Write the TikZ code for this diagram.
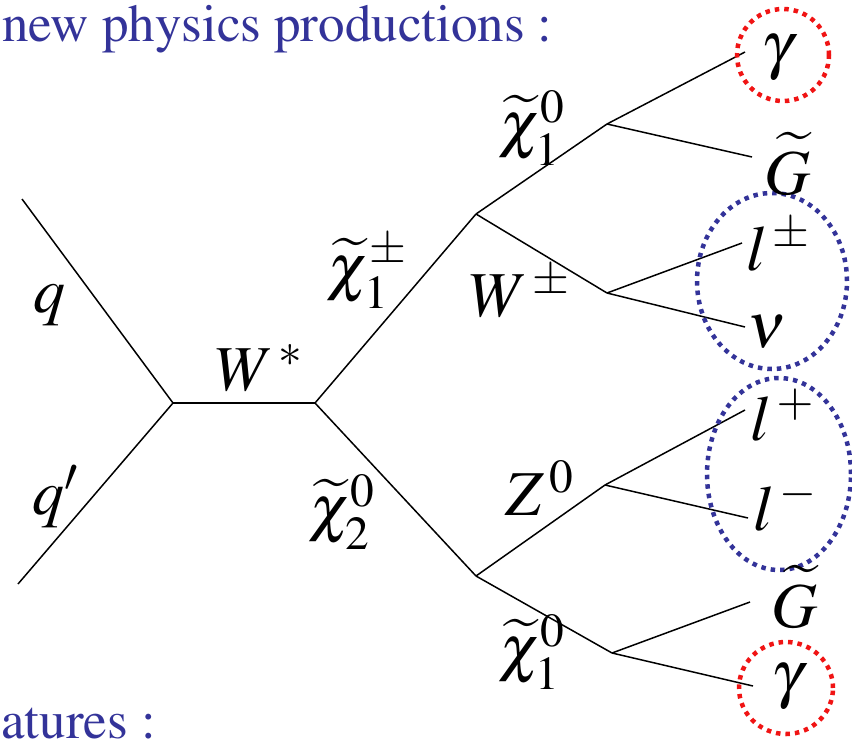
\documentclass[tikz,border=0pt]{standalone}
\usepackage[T1]{fontenc}
\usepackage{amsmath}
\usepackage{mathptmx}
\usetikzlibrary{shapes.geometric}
\definecolor{titleblue}{RGB}{51,51,153}
\definecolor{dotblue}{RGB}{51,51,153}
\definecolor{dotred}{RGB}{240,20,20}
\newcommand\chit{\widetilde{\chi}}
\begin{document}
\begin{tikzpicture}[x=1pt,y=-1pt,
  prop/.style={line width=1.5pt,black},
  lab/.style={inner sep=0pt,font=\fontsize{64}{68}\selectfont},
  title/.style={inner sep=0pt,text=titleblue,font=\fontencoding{T1}\fontfamily{ptm}\fontsize{53}{58}\selectfont},
  redring/.style={ellipse,draw=dotred,line width=4.5pt,dash pattern=on 4.5pt off 5pt,inner sep=0pt},
  bluering/.style={ellipse,draw=dotblue,line width=4.5pt,dash pattern=on 4.5pt off 5pt,inner sep=0pt}]
\useasboundingbox (0,0) rectangle (852,740);
\clip (0,0) rectangle (852,740);
% titles
\node[title,anchor=base west] (t1) at (2,41) {new physics productions :};
\node[title,anchor=base west] (t2) at (-40,738) {features :};
% vertices
\coordinate (v1) at (173,403);
\coordinate (v2) at (315,403);
\coordinate (v3) at (476,214);
\coordinate (v4) at (476,576);
\coordinate (v5) at (607,124);
\coordinate (v6) at (607,293);
\coordinate (v7) at (605,485);
\coordinate (v8) at (612,653);
% free ends
\coordinate (qin) at (22,199);
\coordinate (qpin) at (18,584);
\coordinate (ga1) at (745,52);
\coordinate (G1) at (752,157);
\coordinate (lpm) at (742,243);
\coordinate (nu) at (745,327);
\coordinate (lp) at (745,410);
\coordinate (lm) at (748,518);
\coordinate (G2) at (750,602);
\coordinate (ga2) at (753,686);
% propagators
\draw[prop] (qin) -- (v1);
\draw[prop] (qpin) -- (v1);
\draw[prop] (v1) -- (v2);
\draw[prop] (v2) -- (v3);
\draw[prop] (v2) -- (v4);
\draw[prop] (v3) -- (v5);
\draw[prop] (v3) -- (v6);
\draw[prop] (v5) -- (ga1);
\draw[prop] (v5) -- (G1);
\draw[prop] (v6) -- (lpm);
\draw[prop] (v6) -- (nu);
\draw[prop] (v4) -- (v7);
\draw[prop] (v4) -- (v8);
\draw[prop] (v7) -- (lp);
\draw[prop] (v7) -- (lm);
\draw[prop] (v8) -- (G2);
\draw[prop] (v8) -- (ga2);
% rings
\node[redring,minimum width=92pt,minimum height=92pt] (r1) at (783,55) {};
\node[bluering,minimum width=150pt,minimum height=176pt] (b1) at (772,281) {};
\node[bluering,minimum width=144pt,minimum height=192pt] (b2) at (779,474) {};
\node[redring,minimum width=94pt,minimum height=92pt] (r2) at (786,688) {};
% labels
\node[lab] (lq) at (50,305) {$q$};
\node[lab] (lqp) at (55,497) {$q'$};
\node[lab] (lW) at (259,368) {$W^{\,*}$};
\node[lab] (lc1p) at (367,272) {$\chit_{1}^{\pm}$};
\node[lab] (lc2) at (342,512) {$\chit_{2}^{0}$};
\node[lab] (lc1a) at (532,128) {$\chit_{1}^{0}$};
\node[lab] (lWpm) at (520,292) {$W^{\,\pm}$};
\node[lab] (lZ) at (540,488) {$Z^{\,0}$};
\node[lab] (lc1b) at (532,652) {$\chit_{1}^{0}$};
\node[lab] (lga1) at (777,58) {$\gamma$};
\node[lab] (lG1) at (788,164) {$\widetilde{G}$};
\node[lab] (llpm) at (778,245) {$l^{\,\pm}$};
\node[lab] (lnu) at (767,332) {$\nu$};
\node[lab] (llp) at (782,415) {$l^{\,+}$};
\node[lab] (llm) at (785,505) {$l^{\,-}$};
\node[lab] (lG2) at (795,597) {$\widetilde{G}$};
\node[lab] (lga2) at (787,687) {$\gamma$};
\end{tikzpicture}
\end{document}
